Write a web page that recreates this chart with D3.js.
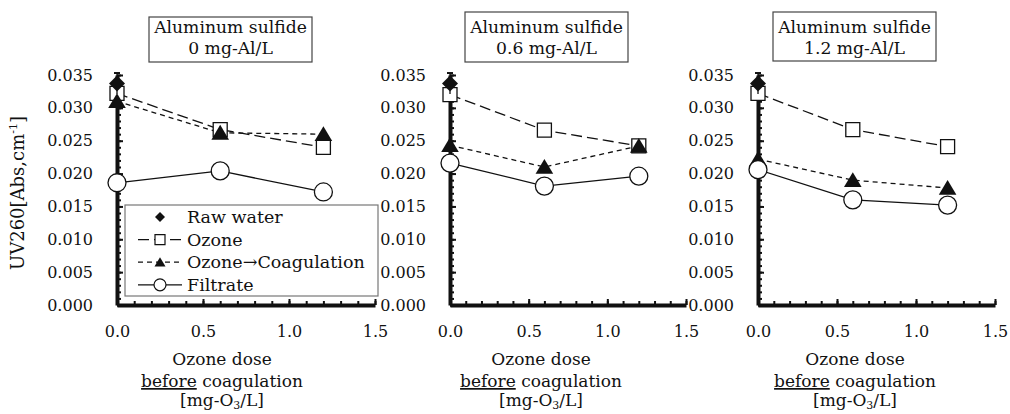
<!DOCTYPE html>
<html lang="en">
  <head>
    <meta charset="UTF-8" />
    <title>UV260 vs ozone dose</title>
    <script src="https://d3js.org/d3.v7.min.js"></script>
    <style>
      body { margin: 0; background: #fff; }
      svg text { font-family: "DejaVu Serif", serif; fill: #111; }
    </style>
  </head>
  <body>
    <div id="chart"></div>
    <script>
      // Data
      const doses = [0, 0.6, 1.2];
      const panelTitles = ["0 mg-Al/L", "0.6 mg-Al/L", "1.2 mg-Al/L"];
      const rawWater = 0.0337;
      const rawWaterErr = 0.0016;
      const ozone = [
        [0.0322, 0.0267, 0.024],
        [0.032, 0.0266, 0.0242],
        [0.0322, 0.0267, 0.0241],
      ];
      const ozoneCoag = [
        [0.031, 0.0262, 0.026],
        [0.0243, 0.021, 0.0242],
        [0.0222, 0.019, 0.0178],
      ];
      const filtrate = [
        [0.0186, 0.0204, 0.0172],
        [0.0216, 0.0181, 0.0196],
        [0.0206, 0.016, 0.0152],
      ];
      const xTicks = [0, 0.5, 1.0, 1.5];
      const yTicks = [0, 0.005, 0.01, 0.015, 0.02, 0.025, 0.03, 0.035];

      // Layout of the three panels (pixel positions)
      const panels = [
        { x0: 117, x1: 375, box: [149, 17, 163, 45], xTitle: 222 },
        { x0: 450, x1: 686, box: [465, 12, 163, 50], xTitle: 541 },
        { x0: 758, x1: 995, box: [773, 12, 163, 49], xTitle: 855 },
      ];
      const yBottom = 305, yTop = 75;

      const svg = d3
        .select("#chart")
        .append("svg")
        .attr("width", 1010)
        .attr("height", 414);

      const y = d3.scaleLinear().domain([0, 0.035]).range([yBottom, yTop]);

      function diamond(s) {
        return `M0,${-s}L${s},0L0,${s}L${-s},0Z`;
      }
      function square(s) {
        return `M${-s},${-s}H${s}V${s}H${-s}Z`;
      }
      function triangle(s) {
        return `M0,${-s}L${s * 1.1},${s * 0.85}L${-s * 1.1},${s * 0.85}Z`;
      }

      panels.forEach((p, i) => {
        const x = d3.scaleLinear().domain([0, 1.5]).range([p.x0, p.x1]);
        const g = svg.append("g");

        // minor ticks
        const minorX = g.append("g").attr("transform", `translate(0,${yBottom})`)
          .call(d3.axisBottom(x).tickValues(d3.range(0, 1.501, 0.1)).tickSize(-4).tickSizeOuter(0).tickFormat(""));
        minorX.select(".domain").remove();
        const minorY = g.append("g").attr("transform", `translate(${p.x0},0)`)
          .call(d3.axisLeft(y).tickValues(d3.range(0, 0.03501, 0.001)).tickSize(-4).tickSizeOuter(0).tickFormat(""));
        minorY.select(".domain").remove();
        g.selectAll(".tick line").attr("stroke", "#111").attr("stroke-width", 2);

        // main axes
        const gx = g.append("g").attr("transform", `translate(0,${yBottom})`)
          .call(d3.axisBottom(x).tickValues(xTicks).tickFormat(d3.format(".1f")).tickSize(-6).tickSizeOuter(0).tickPadding(21));
        const gy = g.append("g").attr("transform", `translate(${p.x0},0)`)
          .call(d3.axisLeft(y).tickValues(yTicks).tickFormat(d3.format(".3f")).tickSize(-6).tickSizeOuter(0).tickPadding(24));
        [gx, gy].forEach((a) => {
          a.select(".domain").attr("stroke", "#111").attr("stroke-width", 4);
          a.selectAll(".tick line").attr("stroke", "#111").attr("stroke-width", 2);
          a.selectAll(".tick text").style("font-family", "DejaVu Serif").style("font-size", "16px").attr("fill", "#111");
        });

        // title box
        const [bx, by, bw, bh] = p.box;
        g.append("rect").attr("x", bx).attr("y", by).attr("width", bw).attr("height", bh)
          .attr("fill", "#fff").attr("stroke", "#444").attr("stroke-width", 1.2);
        g.append("text").attr("x", bx + bw / 2).attr("y", 33).attr("text-anchor", "middle")
          .style("font-size", "17.2px").text("Aluminum sulfide");
        g.append("text").attr("x", bx + bw / 2).attr("y", 54).attr("text-anchor", "middle")
          .style("font-size", "17.2px").text(panelTitles[i]);

        // x axis title
        const xt = g.append("text").attr("text-anchor", "middle").style("font-size", "17px");
        xt.append("tspan").attr("x", p.xTitle).attr("y", 365).text("Ozone dose");
        const l2 = xt.append("tspan").attr("x", p.xTitle).attr("y", 387);
        l2.append("tspan").style("text-decoration", "underline").text("before");
        l2.append("tspan").text(" coagulation");
        const l3 = xt.append("tspan").attr("x", p.xTitle).attr("y", 406);
        l3.append("tspan").text("[mg-O");
        l3.append("tspan").attr("dy", 3).style("font-size", "11px").text("3");
        l3.append("tspan").attr("dy", -3).text("/L]");

        // lines
        const line = (vals) => d3.line().x((d, k) => x(doses[k])).y((d) => y(d))(vals);
        g.append("path").attr("d", line(ozone[i])).attr("fill", "none")
          .attr("stroke", "#111").attr("stroke-width", 1.3).attr("stroke-dasharray", "11,5");
        g.append("path").attr("d", line(ozoneCoag[i])).attr("fill", "none")
          .attr("stroke", "#111").attr("stroke-width", 1.3).attr("stroke-dasharray", "5,4");
        g.append("path").attr("d", line(filtrate[i])).attr("fill", "none")
          .attr("stroke", "#111").attr("stroke-width", 1.3);

        // markers
        g.selectAll(".sq").data(ozone[i]).enter().append("path")
          .attr("transform", (d, k) => `translate(${x(doses[k])},${y(d)})`)
          .attr("d", square(7)).attr("fill", "#fff").attr("stroke", "#111").attr("stroke-width", 1.3);
        g.selectAll(".tri").data(ozoneCoag[i]).enter().append("path")
          .attr("transform", (d, k) => `translate(${x(doses[k])},${y(d)})`)
          .attr("d", triangle(8)).attr("fill", "#111");
        g.selectAll(".circ").data(filtrate[i]).enter().append("circle")
          .attr("cx", (d, k) => x(doses[k])).attr("cy", (d) => y(d)).attr("r", 9)
          .attr("fill", "#fff").attr("stroke", "#111").attr("stroke-width", 1.3);

        // raw water with error bar
        g.append("line").attr("x1", x(0)).attr("x2", x(0))
          .attr("y1", y(rawWater - rawWaterErr)).attr("y2", y(rawWater + rawWaterErr))
          .attr("stroke", "#111").attr("stroke-width", 1.3);
        g.append("line").attr("x1", x(0) - 3).attr("x2", x(0) + 3)
          .attr("y1", y(rawWater + rawWaterErr)).attr("y2", y(rawWater + rawWaterErr))
          .attr("stroke", "#111").attr("stroke-width", 2);
        g.append("path").attr("transform", `translate(${x(0)},${y(rawWater)})`)
          .attr("d", diamond(8)).attr("fill", "#111");
      });

      // y axis title
      const yt = svg.append("text").attr("transform", "translate(24,193) rotate(-90)")
        .attr("text-anchor", "middle").style("font-size", "18px");
      yt.append("tspan").text("UV260[Abs,cm");
      yt.append("tspan").attr("dy", -7).style("font-size", "11px").text("-1");
      yt.append("tspan").attr("dy", 7).text("]");

      // legend
      const legend = svg.append("g").attr("transform", "translate(125,205)");
      legend.append("rect").attr("width", 253).attr("height", 91)
        .attr("fill", "#fff").attr("stroke", "#777").attr("stroke-width", 1.2);
      const items = [
        { label: "Raw water", dash: null, noLine: true, marker: "diamond" },
        { label: "Ozone", dash: "11,5", marker: "square" },
        { label: "Ozone\u2192Coagulation", dash: "5,4", marker: "triangle" },
        { label: "Filtrate", dash: null, marker: "circle" },
      ];
      items.forEach((it, k) => {
        const ly = 12 + k * 22.6;
        const row = legend.append("g").attr("transform", `translate(0,${ly})`);
        if (!it.noLine) {
          row.append("line").attr("x1", 13).attr("x2", 57).attr("y1", 0).attr("y2", 0)
            .attr("stroke", "#111").attr("stroke-width", 1.3)
            .attr("stroke-dasharray", it.dash);
        }
        const m = row.append("g").attr("transform", "translate(35,0)");
        if (it.marker === "diamond") m.append("path").attr("d", diamond(5)).attr("fill", "#111");
        if (it.marker === "square") m.append("path").attr("d", square(5)).attr("fill", "#fff").attr("stroke", "#111").attr("stroke-width", 1.2);
        if (it.marker === "triangle") m.append("path").attr("d", triangle(5)).attr("fill", "#111");
        if (it.marker === "circle") m.append("circle").attr("r", 6).attr("fill", "#fff").attr("stroke", "#111").attr("stroke-width", 1.2);
        row.append("text").attr("x", 62).attr("y", 6).style("font-size", "17.5px").text(it.label);
      });
    </script>
  </body>
</html>
